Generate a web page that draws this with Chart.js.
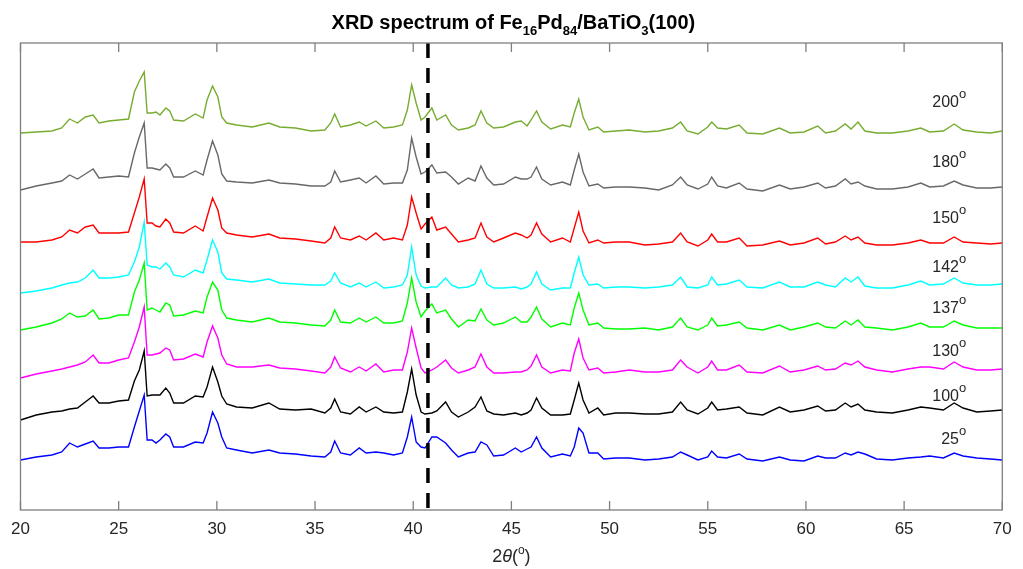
<!DOCTYPE html>
<html>
<head>
<meta charset="utf-8">
<script src="https://cdn.jsdelivr.net/npm/chart.js@4.4.1/dist/chart.umd.min.js"></script>
<style>
  html, body { margin: 0; padding: 0; background: #ffffff; }
  #xrd { display: block; }
</style>
</head>
<body>
<canvas id="xrd" width="1023" height="569"></canvas>
<script>
// Diffraction angle 2θ (degrees)
const twoTheta = [
  20.0, 20.8, 21.6, 22.1, 22.5, 22.9, 23.3, 23.7, 24.0, 24.5,
  25.0, 25.5, 25.8, 26.05, 26.3, 26.45, 26.7, 26.9, 27.1, 27.4,
  27.6, 27.8, 28.3, 28.9, 29.3, 29.5, 29.78, 30.05, 30.25, 30.5,
  31.0, 31.8, 32.65, 33.2, 34.0, 34.8, 35.5, 35.8, 36.0, 36.3,
  36.8, 37.25, 37.6, 38.1, 38.5, 39.0, 39.45, 39.7, 39.92, 40.15,
  40.4, 40.6, 40.95, 41.2, 41.65, 41.95, 42.3, 42.8, 43.15, 43.45,
  43.75, 44.1, 44.6, 45.2, 45.5, 45.8, 46.0, 46.28, 46.55, 47.0,
  47.6, 48.0, 48.2, 48.43, 48.65, 48.95, 49.4, 49.7, 50.3, 51.0,
  51.8, 52.5, 53.2, 53.62, 53.95, 54.5, 55.0, 55.2, 55.5, 55.95,
  56.6, 57.0, 57.8, 58.65, 59.2, 59.9, 60.6, 61.0, 61.5, 62.0,
  62.3, 62.65, 63.0, 63.6, 64.4, 65.2, 65.85, 66.3, 67.0, 67.55,
  68.0, 68.7, 69.4, 70.0
];

// Stacked intensities (a.u., each scan shifted up for clarity)
const scan200 = [
  377, 378, 379, 382, 391, 387, 393, 395, 387, 389,
  390, 391, 418, 429, 438, 397, 397, 398, 395, 402,
  399, 390, 389, 396, 392, 410, 424, 413, 393, 387,
  385, 383, 387, 383, 382, 379, 380, 387, 396, 383,
  385, 388, 384, 389, 382, 383, 385, 400, 425, 407,
  390, 393, 402, 390, 395, 385, 380, 382, 385, 399,
  387, 382, 383, 388, 389, 384, 390, 399, 388, 381,
  385, 383, 397, 411, 393, 380, 383, 378, 379, 380,
  378, 379, 382, 388, 379, 376, 383, 388, 382, 381,
  385, 377, 376, 382, 377, 378, 384, 377, 379, 386,
  381, 388, 379, 377, 377, 379, 382, 378, 379, 386,
  380, 378, 377, 379
];
const scan180 = [
  320, 324, 327, 329, 335, 331, 336, 341, 332, 333,
  334, 333, 357, 373, 387, 342, 342, 341, 340, 346,
  342, 333, 333, 339, 335, 350, 369, 355, 336, 329,
  328, 327, 330, 327, 326, 324, 324, 328, 339, 328,
  330, 332, 327, 334, 326, 327, 327, 340, 372, 353,
  336, 338, 345, 337, 338, 333, 326, 332, 329, 344,
  332, 325, 326, 333, 331, 331, 333, 343, 331, 325,
  328, 325, 340, 356, 338, 324, 326, 322, 323, 323,
  322, 320, 325, 333, 325, 321, 326, 333, 324, 322,
  327, 321, 319, 325, 321, 323, 327, 322, 324, 331,
  326, 328, 324, 321, 321, 323, 327, 323, 324, 329,
  325, 322, 322, 323
];
const scan150 = [
  268, 268, 270, 273, 280, 277, 283, 285, 277, 277,
  277, 278, 297, 313, 331, 287, 287, 284, 283, 291,
  287, 278, 277, 284, 279, 293, 312, 300, 282, 277,
  275, 273, 276, 272, 271, 269, 267, 272, 283, 272,
  270, 274, 270, 277, 270, 272, 270, 285, 313, 297,
  281, 286, 293, 280, 283, 276, 268, 270, 272, 287,
  273, 268, 272, 277, 275, 272, 275, 287, 276, 268,
  272, 268, 282, 298, 279, 267, 270, 267, 268, 268,
  265, 266, 268, 277, 268, 264, 270, 276, 268, 268,
  272, 264, 265, 269, 265, 267, 272, 266, 268, 274,
  270, 273, 267, 265, 265, 267, 270, 267, 267, 273,
  268, 267, 266, 267
];
const scan142 = [
  217, 219, 222, 225, 227, 228, 232, 240, 232, 232,
  233, 235, 248, 263, 288, 245, 243, 243, 241, 247,
  243, 235, 233, 240, 237, 250, 270, 258, 237, 231,
  230, 228, 231, 227, 226, 225, 225, 229, 237, 227,
  223, 227, 223, 228, 222, 223, 225, 235, 263, 235,
  224, 222, 223, 223, 232, 225, 222, 223, 226, 240,
  226, 222, 222, 223, 221, 223, 226, 238, 226, 220,
  222, 222, 237, 253, 235, 225, 226, 222, 223, 223,
  222, 223, 225, 233, 223, 222, 225, 233, 225, 226,
  230, 223, 222, 228, 223, 223, 228, 225, 223, 232,
  228, 233, 224, 222, 222, 225, 229, 225, 226, 232,
  227, 225, 225, 226
];
const scan137 = [
  180, 183, 187, 191, 197, 193, 194, 200, 191, 192,
  195, 195, 218, 230, 247, 200, 202, 200, 198, 207,
  205, 194, 195, 199, 197, 213, 228, 220, 200, 192,
  190, 188, 192, 188, 187, 185, 184, 190, 200, 188,
  187, 192, 188, 193, 187, 187, 189, 207, 232, 208,
  193, 199, 206, 197, 200, 191, 183, 190, 189, 201,
  190, 185, 187, 193, 188, 188, 193, 203, 191, 183,
  187, 185, 202, 217, 200, 185, 187, 182, 181, 181,
  182, 180, 183, 192, 183, 180, 185, 192, 184, 185,
  188, 182, 180, 185, 180, 183, 187, 183, 182, 189,
  185, 190, 183, 182, 180, 183, 187, 183, 183, 189,
  185, 182, 182, 182
];
const scan130 = [
  132, 136, 139, 141, 143, 145, 148, 155, 147, 147,
  150, 152, 168, 183, 203, 155, 155, 156, 157, 162,
  160, 150, 151, 156, 153, 168, 184, 172, 155, 146,
  143, 143, 145, 142, 141, 139, 137, 143, 153, 142,
  138, 143, 139, 146, 138, 140, 140, 158, 182, 162,
  142, 137, 140, 143, 150, 142, 137, 140, 143, 156,
  143, 137, 137, 138, 138, 140, 144, 155, 143, 137,
  140, 139, 157, 171, 152, 140, 142, 137, 138, 140,
  138, 138, 140, 150, 143, 137, 143, 149, 140, 140,
  145, 138, 137, 144, 138, 140, 144, 140, 141, 147,
  145, 149, 143, 140, 138, 141, 143, 143, 141, 148,
  143, 140, 140, 141
];
const scan100 = [
  90, 95, 98, 99, 101, 102, 108, 114, 107, 107,
  109, 110, 129, 140, 159, 114, 115, 115, 115, 122,
  117, 107, 107, 114, 113, 123, 143, 128, 114, 106,
  103, 102, 107, 101, 100, 101, 97, 102, 111, 98,
  96, 103, 98, 103, 98, 97, 98, 118, 141, 115,
  98, 96, 97, 99, 108, 98, 93, 98, 103, 113,
  99, 96, 95, 97, 95, 97, 100, 112, 102, 95,
  95, 96, 110, 127, 110, 97, 102, 95, 97, 97,
  96, 96, 98, 108, 100, 96, 102, 108, 100, 101,
  103, 97, 95, 103, 98, 100, 104, 99, 100, 107,
  103, 106, 100, 98, 97, 100, 103, 102, 100, 107,
  102, 98, 99, 100
];
const scan25 = [
  50, 53, 55, 58, 67, 63, 66, 69, 62, 62,
  63, 63, 83, 99, 115, 70, 70, 67, 70, 76,
  73, 63, 63, 68, 67, 77, 98, 87, 73, 62,
  60, 57, 60, 57, 56, 54, 53, 58, 69, 57,
  55, 62, 57, 58, 57, 55, 57, 73, 93, 68,
  63, 62, 73, 73, 67, 60, 53, 57, 58, 68,
  65, 54, 55, 62, 58, 61, 63, 73, 62, 53,
  56, 54, 63, 82, 77, 57, 57, 51, 52, 52,
  50, 51, 53, 58, 55, 50, 53, 59, 53, 52,
  56, 51, 49, 53, 50, 49, 54, 52, 52, 57,
  55, 58, 56, 51, 50, 52, 53, 54, 52, 57,
  54, 52, 51, 50
];

// Angle labels of the scans, top to bottom
const scanAngles = ['200', '180', '150', '142', '137', '130', '100', '25'];
// Reference position marked by the dashed line (2θ, degrees)
const markerTwoTheta = 40.75;
// Tick values on the 2θ axis
const xTicks = [20, 25, 30, 35, 40, 45, 50, 55, 60, 65, 70];

const scans = [scan200, scan180, scan150, scan142, scan137, scan130, scan100, scan25];

// Styling
const FONT = '"Liberation Sans", Arial, Helvetica, sans-serif';
const scanColors = ['#77ac30', '#686868', '#ff0000', '#00ffff', '#00ff00', '#ff00ff', '#000000', '#0000ff'];
const Y_MIN = 0, Y_MAX = 467;
// vertical placement of the angle labels (value units, text baseline)
const labelLevels = [403.5, 343.5, 287.5, 238.5, 197, 154.5, 109.5, 66.5];
const AXIS_COLOR = '#7f7f7f';
const TEXT_COLOR = '#262626';

function drawRuns(ctx, runs, x, baseY, align) {
  let total = 0;
  const widths = runs.map(r => { ctx.font = r.font; const w = ctx.measureText(r.text).width; total += w; return w; });
  let cx = align === 'center' ? x - total / 2 : (align === 'right' ? x - total : x);
  ctx.textAlign = 'left';
  ctx.textBaseline = 'alphabetic';
  runs.forEach((r, i) => {
    ctx.font = r.font;
    ctx.fillText(r.text, cx, baseY + (r.dy || 0));
    cx += widths[i];
  });
}

const frame = {
  id: 'frame',
  afterDraw(chart) {
    const { ctx, chartArea: a, scales: { x, y } } = chart;
    ctx.save();

    // axes box with inward ticks on top and bottom
    ctx.strokeStyle = AXIS_COLOR;
    ctx.lineWidth = 1.3;
    ctx.strokeRect(a.left, a.top, a.right - a.left, a.bottom - a.top);
    ctx.beginPath();
    xTicks.forEach(t => {
      const px = x.getPixelForValue(t);
      ctx.moveTo(px, a.bottom); ctx.lineTo(px, a.bottom - 9);
      ctx.moveTo(px, a.top); ctx.lineTo(px, a.top + 9);
    });
    ctx.stroke();

    // angle labels next to each scan
    ctx.fillStyle = TEXT_COLOR;
    const rightEdge = x.getPixelForValue(68.16);
    scanAngles.forEach((lab, i) => {
      drawRuns(ctx, [
        { text: lab, font: `16px ${FONT}` },
        { text: 'o', font: `13px ${FONT}`, dy: -9 }
      ], rightEdge, y.getPixelForValue(labelLevels[i]), 'right');
    });

    // title
    ctx.fillStyle = '#000000';
    const B = `bold 20px ${FONT}`, S = `bold 13px ${FONT}`;
    drawRuns(ctx, [
      { text: 'XRD spectrum of Fe', font: B },
      { text: '16', font: S, dy: 6 },
      { text: 'Pd', font: B },
      { text: '84', font: S, dy: 6 },
      { text: '/BaTiO', font: B },
      { text: '3', font: S, dy: 6 },
      { text: '(100)', font: B }
    ], (a.left + a.right) / 2 + 2, 28.5, 'center');

    // x axis title
    ctx.fillStyle = TEXT_COLOR;
    const N = `18px ${FONT}`;
    drawRuns(ctx, [
      { text: '2', font: N },
      { text: 'θ', font: `italic 18px ${FONT}` },
      { text: '(', font: N },
      { text: 'o', font: `12px ${FONT}`, dy: -8 },
      { text: ')', font: N }
    ], x.getPixelForValue(45), 561.5, 'center');

    ctx.restore();
  }
};

const datasets = [{
  // dashed reference line
  data: [{ x: markerTwoTheta, y: Y_MAX }, { x: markerTwoTheta, y: Y_MIN }],
  borderColor: '#000000',
  borderWidth: 3.5,
  borderDash: [15, 10],
  borderCapStyle: 'butt'
}].concat(scans.map((vals, i) => ({
  label: scanAngles[i] + '°',
  data: twoTheta.map((t, j) => ({ x: t, y: vals[j] })),
  borderColor: scanColors[i],
  borderWidth: 1.4
})));

new Chart(document.getElementById('xrd'), {
  type: 'line',
  data: { datasets },
  options: {
    responsive: false,
    animation: false,
    devicePixelRatio: 1,
    layout: { padding: { left: 20.5, right: 20.7, top: 43, bottom: 0 } },
    elements: { point: { radius: 0 }, line: { tension: 0, fill: false } },
    plugins: { legend: { display: false }, tooltip: { enabled: false }, title: { display: false } },
    scales: {
      x: {
        type: 'linear',
        min: 20, max: 70,
        grid: { display: false, drawTicks: false },
        border: { display: false },
        afterBuildTicks(s) { s.ticks = xTicks.map(v => ({ value: v })); },
        ticks: { color: TEXT_COLOR, font: { family: FONT, size: 17 }, padding: 9, maxRotation: 0, autoSkip: false },
        afterFit(s) { s.height = 59; }
      },
      y: { display: false, min: Y_MIN, max: Y_MAX }
    }
  },
  plugins: [frame]
});
</script>
</body>
</html>
